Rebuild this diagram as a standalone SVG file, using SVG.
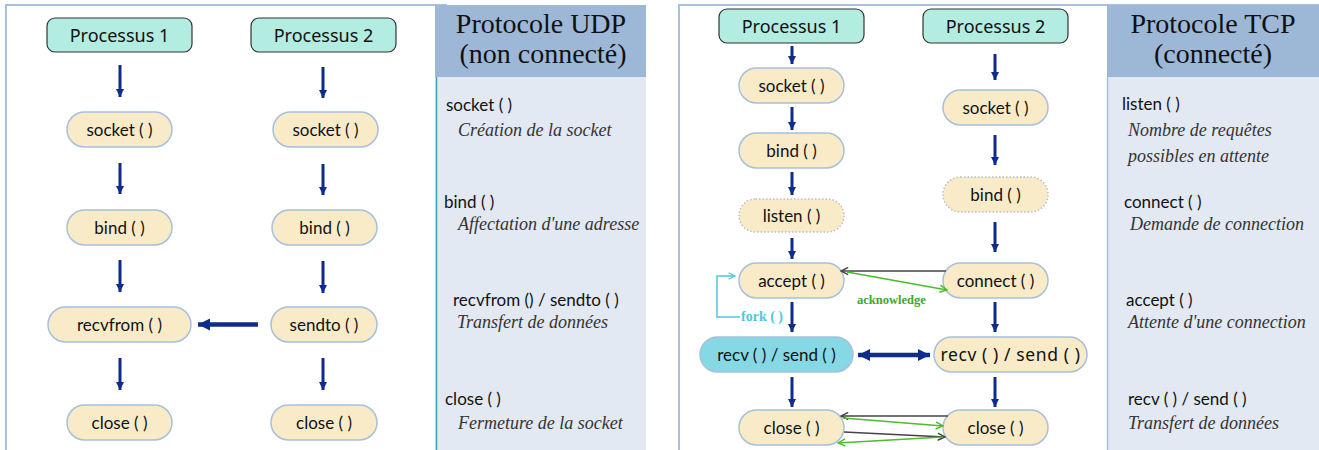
<svg xmlns="http://www.w3.org/2000/svg" width="1319" height="450" viewBox="0 0 1319 450">
<style>
.frame{fill:#ffffff;stroke:#a9c0dc;stroke-width:2}
.head{fill:#9db8d6}
.body{fill:#e3e9f2}
.title{font-family:"Liberation Serif",serif;font-size:28px;fill:#111;text-anchor:middle}
.fn{font-family:Lato,"Open Sans",sans-serif;font-size:17px;fill:#111}
.desc{font-family:"Liberation Serif",serif;font-style:italic;font-size:18px;fill:#333}
.proc rect{fill:#b3ece0;stroke:#333;stroke-width:1.2}
.proc text{font-family:"Noto Sans","DejaVu Sans",sans-serif;font-size:18px;fill:#111;text-anchor:middle}
.node rect{fill:#f9ebc8;stroke:#a8c0dc;stroke-width:1.5}
.node.dot rect{stroke:#b8c0c8;stroke-dasharray:1.5 2}
.node.cyan rect{fill:#86d9e4}
.node text{font-family:Lato,"Open Sans",sans-serif;font-size:17px;fill:#111;text-anchor:middle}
.node text.round{font-family:"Noto Sans","DejaVu Sans",sans-serif;font-size:17.5px;letter-spacing:0.6px}
.nav{stroke:#0f2b8c;stroke-width:3;fill:none;marker-end:url(#ah)}
.navt{stroke:#0f2b8c;stroke-width:4.5;fill:none}
.gray{stroke:#444;stroke-width:1.5;fill:none;marker-end:url(#og)}
.green{stroke:#4cbb2c;stroke-width:1.5;fill:none;marker-end:url(#ogr)}
</style>
<defs>
<marker id="ah" viewBox="0 0 10 10" refX="10" refY="5" markerUnits="userSpaceOnUse" markerWidth="8" markerHeight="8" orient="auto"><path d="M0,0 L10,5 L0,10 z" fill="#0f2b8c"/></marker>
<marker id="ahb" viewBox="0 0 10 10" refX="10" refY="5" markerUnits="userSpaceOnUse" markerWidth="12" markerHeight="13" orient="auto-start-reverse"><path d="M0,0 L10,5 L0,10 z" fill="#0f2b8c"/></marker>
<marker id="og" viewBox="0 0 10 10" refX="9" refY="5" markerUnits="userSpaceOnUse" markerWidth="9" markerHeight="9" orient="auto"><path d="M1,1 L9,5 L1,9" fill="none" stroke="#444" stroke-width="1.6"/></marker>
<marker id="ogr" viewBox="0 0 10 10" refX="9" refY="5" markerUnits="userSpaceOnUse" markerWidth="9" markerHeight="9" orient="auto"><path d="M1,1 L9,5 L1,9" fill="none" stroke="#4cbb2c" stroke-width="1.6"/></marker>
<marker id="oc" viewBox="0 0 10 10" refX="9" refY="5" markerUnits="userSpaceOnUse" markerWidth="8" markerHeight="8" orient="auto"><path d="M1,1 L9,5 L1,9" fill="none" stroke="#4cc8dc" stroke-width="1.6"/></marker>
</defs>

<!-- UDP panel -->
<g id="udp-panel">
<rect class="frame" x="6" y="5" width="440" height="450"/>
<rect class="head" x="435" y="5" width="211" height="72"/>
<rect class="body" x="435" y="77" width="211" height="373"/>
<line x1="436.5" y1="77" x2="436.5" y2="450" stroke="#3aa4c0" stroke-width="1.5"/>
<text class="title" x="541" y="33">Protocole UDP</text>
<text class="title" x="543" y="63">(non connecté)</text>
<text class="fn" x="446" y="111">socket ( )</text>
<text class="desc" x="458" y="136">Création de la socket</text>
<text class="fn" x="444" y="208">bind ( )</text>
<text class="desc" x="458" y="230">Affectation d'une adresse</text>
<text class="fn" x="453" y="306">recvfrom () / sendto ( )</text>
<text class="desc" x="457" y="328">Transfert de données</text>
<text class="fn" x="445" y="405">close ( )</text>
<text class="desc" x="458" y="429">Fermeture de la socket</text>
</g>

<!-- TCP panel -->
<g id="tcp-panel">
<rect class="frame" x="679" y="5" width="660" height="450"/>
<rect class="head" x="1107" y="5" width="212" height="72"/>
<rect class="body" x="1107" y="77" width="212" height="373"/>
<line x1="1107.5" y1="77" x2="1107.5" y2="450" stroke="#a9c0dc" stroke-width="1.5"/>
<text class="title" x="1213" y="33">Protocole TCP</text>
<text class="title" x="1213" y="63">(connecté)</text>
<text class="fn" x="1122" y="110">listen ( )</text>
<text class="desc" x="1128" y="136">Nombre de requêtes</text>
<text class="desc" x="1128" y="162">possibles en attente</text>
<text class="fn" x="1124" y="208">connect ( )</text>
<text class="desc" x="1130" y="230">Demande de connection</text>
<text class="fn" x="1126" y="306">accept ( )</text>
<text class="desc" x="1128" y="328">Attente d'une connection</text>
<text class="fn" x="1128" y="405">recv ( ) / send ( )</text>
<text class="desc" x="1128" y="429">Transfert de données</text>
</g>

<!-- UDP nodes -->
<g id="udp-p1" class="proc"><rect x="47" y="18" width="145" height="34" rx="8"/><text x="119.5" y="41.5">Processus 1</text></g>
<g id="udp-p2" class="proc"><rect x="251" y="18" width="145" height="34" rx="8"/><text x="323.5" y="41.5">Processus 2</text></g>
<g id="udp-socket1" class="node"><rect x="67" y="112" width="105" height="35" rx="17.5"/><text x="119.5" y="135.5">socket ( )</text></g>
<g id="udp-socket2" class="node"><rect x="273" y="112" width="105" height="35" rx="17.5"/><text x="325.5" y="135.5">socket ( )</text></g>
<g id="udp-bind1" class="node"><rect x="67" y="210" width="105" height="35" rx="17.5"/><text x="119.5" y="233.5">bind ( )</text></g>
<g id="udp-bind2" class="node"><rect x="272" y="210" width="105" height="35" rx="17.5"/><text x="324.5" y="233.5">bind ( )</text></g>
<g id="udp-recvfrom" class="node"><rect x="48" y="307" width="143" height="35" rx="17.5"/><text x="119.5" y="330.5">recvfrom ( )</text></g>
<g id="udp-sendto" class="node"><rect x="271" y="307" width="106" height="35" rx="17.5"/><text x="324" y="330.5">sendto ( )</text></g>
<g id="udp-close1" class="node"><rect x="67" y="405" width="105" height="35" rx="17.5"/><text x="119.5" y="428.5">close ( )</text></g>
<g id="udp-close2" class="node"><rect x="271" y="405" width="106" height="35" rx="17.5"/><text x="324" y="428.5">close ( )</text></g>

<!-- TCP nodes -->
<g id="tcp-p1" class="proc"><rect x="719" y="9" width="145" height="34" rx="8"/><text x="791.5" y="32.5">Processus 1</text></g>
<g id="tcp-p2" class="proc"><rect x="923" y="9" width="145" height="34" rx="8"/><text x="995.5" y="32.5">Processus 2</text></g>
<g id="tcp-socket1" class="node"><rect x="739" y="68" width="105" height="35" rx="17.5"/><text x="791.5" y="91.5">socket ( )</text></g>
<g id="tcp-bind1" class="node"><rect x="739" y="133" width="105" height="35" rx="17.5"/><text x="791.5" y="156.5">bind ( )</text></g>
<g id="tcp-listen" class="node dot"><rect x="739" y="199" width="105" height="33" rx="16.5"/><text x="791.5" y="221.5">listen ( )</text></g>
<g id="tcp-accept" class="node"><rect x="739" y="263" width="105" height="35" rx="17.5"/><text x="791.5" y="286.5">accept ( )</text></g>
<g id="tcp-recv1" class="node cyan"><rect x="700" y="337" width="153" height="35" rx="17.5"/><text x="776.5" y="360.5">recv ( ) / send ( )</text></g>
<g id="tcp-close1" class="node"><rect x="739" y="410" width="105" height="35" rx="17.5"/><text x="791.5" y="433.5">close ( )</text></g>
<g id="tcp-socket2" class="node"><rect x="943" y="90" width="105" height="35" rx="17.5"/><text x="995.5" y="113.5">socket ( )</text></g>
<g id="tcp-bind2" class="node dot"><rect x="943" y="177" width="105" height="35" rx="17.5"/><text x="995.5" y="200.5">bind ( )</text></g>
<g id="tcp-connect" class="node"><rect x="943" y="263" width="105" height="35" rx="17.5"/><text x="995.5" y="286.5">connect ( )</text></g>
<g id="tcp-recv2" class="node"><rect x="934" y="337" width="153" height="35" rx="17.5"/><text class="round" x="1010.5" y="360.5">recv ( ) / send ( )</text></g>
<g id="tcp-close2" class="node"><rect x="943" y="410" width="105" height="35" rx="17.5"/><text x="995.5" y="433.5">close ( )</text></g>

<!-- connectors -->
<g id="connectors">
<line class="nav" x1="120" y1="65" x2="120" y2="97"/>
<line class="nav" x1="120" y1="163" x2="120" y2="194"/>
<line class="nav" x1="120" y1="260" x2="120" y2="292"/>
<line class="nav" x1="120" y1="358" x2="120" y2="390"/>
<line class="nav" x1="323" y1="67" x2="323" y2="98"/>
<line class="nav" x1="323" y1="164" x2="323" y2="195"/>
<line class="nav" x1="323" y1="261" x2="323" y2="293"/>
<line class="nav" x1="323" y1="358" x2="323" y2="390"/>
<line class="navt" x1="258" y1="324.5" x2="198" y2="324.5" marker-end="url(#ahb)"/>

<line class="nav" x1="792" y1="46" x2="792" y2="64"/>
<line class="nav" x1="792" y1="107" x2="792" y2="130"/>
<line class="nav" x1="792" y1="172" x2="792" y2="195"/>
<line class="nav" x1="792" y1="238" x2="792" y2="259"/>
<line class="nav" x1="792" y1="302" x2="792" y2="332"/>
<line class="nav" x1="792" y1="377" x2="792" y2="407"/>
<line class="nav" x1="995" y1="54" x2="995" y2="80"/>
<line class="nav" x1="995" y1="135" x2="995" y2="165"/>
<line class="nav" x1="995" y1="222" x2="995" y2="252"/>
<line class="nav" x1="995" y1="302" x2="995" y2="332"/>
<line class="nav" x1="995" y1="377" x2="995" y2="407"/>
<line class="navt" x1="858" y1="355" x2="930" y2="355" marker-start="url(#ahb)" marker-end="url(#ahb)"/>

<line class="gray" x1="946" y1="271" x2="841" y2="271"/>
<line class="green" x1="847" y1="272" x2="947" y2="290"/>
<text x="857" y="304" font-family="Liberation Serif,serif" font-weight="bold" font-size="12.5" fill="#3aa82a">acknowledge</text>

<path d="M740 317 H717 V276 H735" fill="none" stroke="#4cc8dc" stroke-width="1.5" marker-end="url(#oc)"/>
<text x="741" y="321" font-family="Liberation Serif,serif" font-weight="bold" font-size="14" fill="#4cc8dc">fork  ( )</text>

<line class="gray" x1="948" y1="416" x2="841" y2="416"/>
<line class="green" x1="843" y1="418" x2="943" y2="426"/>
<line class="gray" x1="844" y1="432" x2="945" y2="437"/>
<line class="green" x1="943" y1="437" x2="838" y2="443"/>
</g>
</svg>
